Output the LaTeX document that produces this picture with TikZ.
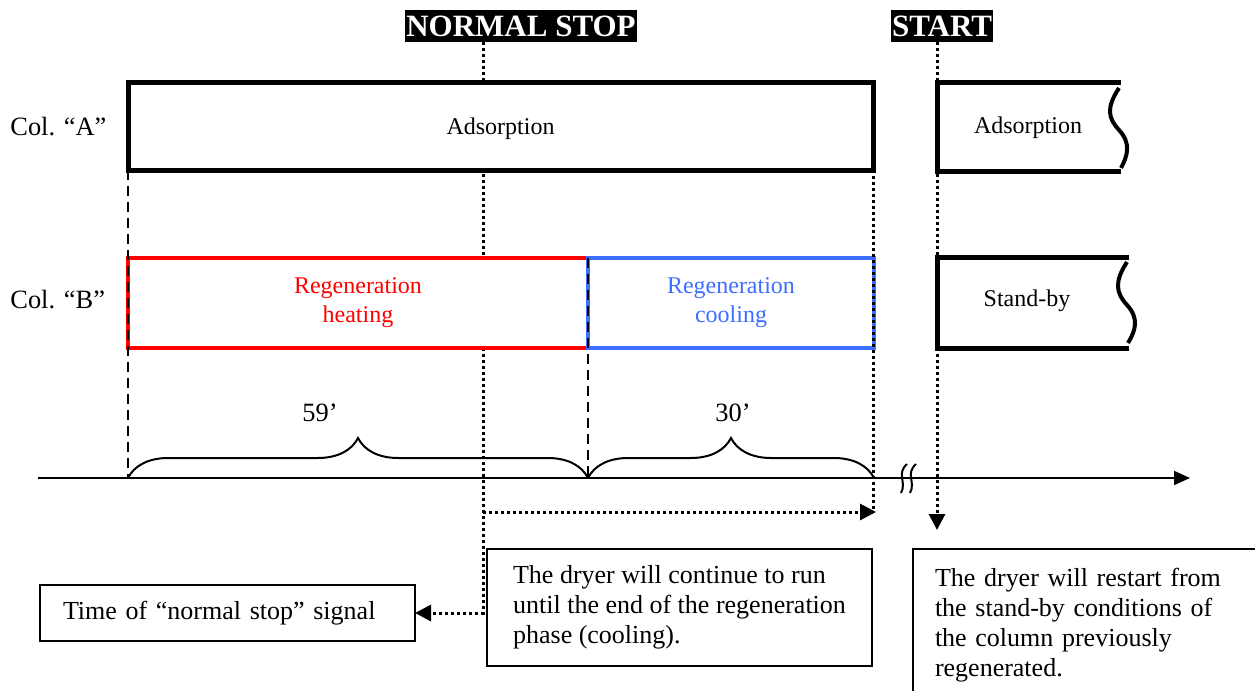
\documentclass[tikz,border=0pt]{standalone}
\usepackage{fontspec}
\setmainfont{Liberation Serif}
\usetikzlibrary{arrows.meta,decorations.pathreplacing,positioning}

\definecolor{heatred}{RGB}{255,0,0}
\definecolor{coolblue}{RGB}{61,110,255}

\tikzset{
  stoptitle/.style={fill=black, text=white, font=\bfseries\fontsize{15.5}{17}\selectfont, inner xsep=0.5pt, inner ysep=0pt, minimum height=16pt},
  phasebox/.style={draw, line width=2.5pt, fill=white, inner sep=0pt, outer sep=0pt, align=center, font=\fontsize{12}{14.5}\selectfont},
  rowname/.style={inner sep=0pt, anchor=west, font=\fontsize{13.2}{15}\selectfont},
  notebox/.style={draw, line width=1pt, fill=white, inner xsep=11.5pt, inner ysep=4pt, outer sep=0pt, align=left, font=\fontsize{13}{15}\selectfont},
  signal/.style={line width=1.5pt, dash pattern=on 1.5pt off 1.5pt},
  phaseline/.style={line width=1pt, dash pattern=on 5pt off 3pt},
  sigarrow/.style={-{Triangle[length=8pt, width=8pt]}},
  timebrace/.style={decorate, decoration={brace, amplitude=20pt}, line width=1pt}
}

\begin{document}
\begin{tikzpicture}[x=0.5pt, y=-0.5pt]
    \useasboundingbox (0,0) rectangle (1255,691);

    % Define coordinates
    \coordinate (StopX) at (483,0); % normal stop signal
    \coordinate (RunTo) at (876,512); % end of cooling
    \coordinate (Restart) at (937,530); % start again
    \coordinate (AxisStart) at (38,478);
    \coordinate (AxisEnd) at (1190,478);

    % Titles
    \node[stoptitle] (NormalStop) at (521,26) {NORMAL STOP};
    \node[stoptitle] (Start) at (942,26) {START};

    % Notes below the time axis
    \node[notebox, text width=164.5pt, minimum height=28pt] (TimeNote) at (227.5,613) {Time of “normal stop” signal};
    \node[notebox, minimum width=192.5pt, minimum height=58.5pt] (RunNote) at (679.5,607.5) {The dryer will continue to run\\until the end of the regeneration\\phase (cooling).};
    \node[notebox, draw=none, anchor=north west, text width=200pt, inner ysep=9.5pt, inner xsep=11pt] (RestartNote) at (913,549) {The dryer will restart from\\the stand-by conditions of\\the column previously\\regenerated.};
    \draw[line width=1pt] (RestartNote.north east) -| ([yshift=-10pt]RestartNote.south west); % box cut by the page

    % Dotted signal lines (behind the boxes)
    \draw[signal, sigarrow] (NormalStop.south -| StopX) |- (TimeNote.east);
    \draw[signal, sigarrow] (StopX |- RunTo) -- (RunTo);
    \draw[signal, sigarrow] (Start.south -| Restart) -- (Restart);

    % Column A
    \node[phasebox, text depth=0pt, minimum width=372.5pt, minimum height=44pt] (ColA) at (500.5,126) {Adsorption};
    \node[rowname] (ColAName) at (10,127) {Col. “A”};

    % Column B
    \node[phasebox, draw=heatred, text=heatred, line width=2.2pt, minimum width=230pt, minimum height=45pt] (Heating) at (358,303) {Regeneration\\heating};
    \node[phasebox, draw=coolblue, text=coolblue, line width=2.2pt, minimum width=143pt, minimum height=45pt] (Cooling) at (731,303) {Regeneration\\cooling};
    \node[rowname] (ColBName) at (10,300) {Col. “B”};

    % Boxes after the restart (cut on the right)
    \draw[line width=2.5pt] (1121,82) -- (937,82) -- (937,171) -- (1121,171);
    \draw[line width=2pt] (1119,88) .. controls (1106,108) and (1108,118) .. (1119,130) .. controls (1131,143) and (1128,155) .. (1121,168);
    \node[font=\fontsize{12}{14.5}\selectfont] (AdsNext) at (1028,128) {Adsorption};
    \draw[line width=2.5pt] (1129,257) -- (937,257) -- (937,348) -- (1129,348);
    \draw[line width=2pt] (1127,262) .. controls (1114,282) and (1116,293) .. (1127,305) .. controls (1139,318) and (1136,330) .. (1128,343);
    \node[font=\fontsize{12}{14.5}\selectfont] (StandBy) at (1027,301) {Stand-by};

    % Phase limits
    \draw[phaseline] (ColA.south west) -- (ColA.south west |- AxisStart);
    \draw[phaseline] (Heating.north east) -- (Heating.north east |- AxisStart);
    \draw[signal] (ColA.south east) -- (ColA.south east |- RunTo);

    % Time axis with break
    \draw[line width=1pt, -{Triangle[length=8pt, width=7pt]}] (AxisStart) -- (AxisEnd);
    \draw[line width=1pt] (907,464) .. controls (896,474) and (907,482) .. (901,493);
    \draw[line width=1pt] (916,464) .. controls (905,474) and (916,482) .. (910,493);

    % Durations
    \draw[timebrace] (ColA.south west |- AxisStart) -- (Heating.north east |- AxisStart);
    \node[font=\fontsize{13.2}{15}\selectfont] (HeatTime) at (320,413) {59’};
    \draw[timebrace] (Heating.north east |- AxisStart) -- (Cooling.north east |- AxisStart);
    \node[font=\fontsize{13.2}{15}\selectfont] (CoolTime) at (733,413) {30’};

\end{tikzpicture}
\end{document}
